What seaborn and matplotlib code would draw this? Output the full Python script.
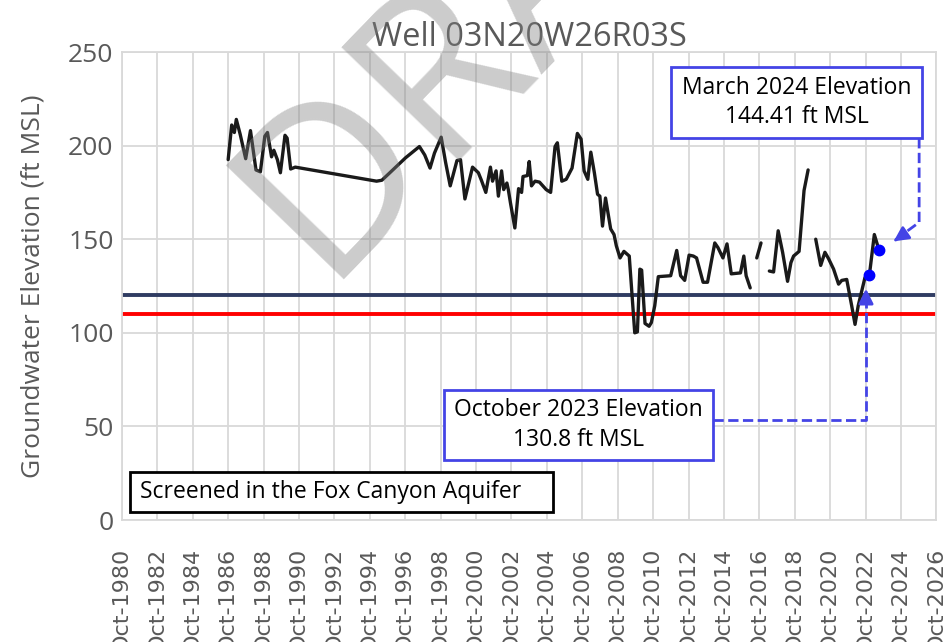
import numpy as np
import pandas as pd
import seaborn as sns
import matplotlib.pyplot as plt
from matplotlib.patches import Rectangle

# data (decimal years, ft MSL); seg marks gaps in the record
years = [1986.75, 1986.95, 1987.10, 1987.21, 1987.43, 1987.74, 1988.01, 1988.32, 1988.57, 1988.82,
         1988.97, 1989.20, 1989.33, 1989.53, 1989.70, 1989.96, 1990.08, 1990.28, 1990.54, 1995.13,
         1995.43, 1995.88, 1996.77, 1997.55, 1997.85, 1998.15, 1998.40, 1998.78, 1999.03, 1999.29,
         1999.67, 1999.87, 2000.12, 2000.55, 2000.88, 2001.05, 2001.30, 2001.56, 2001.68, 2001.88,
         2002.01, 2002.19, 2002.31, 2002.49, 2002.57, 2002.69, 2002.94, 2003.15, 2003.32, 2003.40,
         2003.65, 2003.75, 2003.88, 2004.08, 2004.33, 2004.71, 2004.96, 2005.21, 2005.34, 2005.59,
         2005.84, 2006.17, 2006.47, 2006.68, 2006.85, 2007.06, 2007.23, 2007.43, 2007.61, 2007.74,
         2007.89, 2008.06, 2008.35, 2008.54, 2008.67, 2008.88, 2009.10, 2009.40, 2009.71, 2009.86,
         2010.00, 2010.10, 2010.29, 2010.52, 2010.65, 2010.84, 2011.04, 2011.74, 2012.08, 2012.30,
         2012.53, 2012.78, 2013.02, 2013.20, 2013.57, 2013.82, 2014.23, 2014.41, 2014.69, 2014.92,
         2015.16, 2015.68, 2015.87, 2016.00, 2016.23,
         2016.60, 2016.84,
         2017.31, 2017.55, 2017.81, 2018.06, 2018.34, 2018.53, 2018.68, 2018.99, 2019.27, 2019.50,
         2019.93, 2020.21, 2020.45, 2020.66, 2020.94, 2021.22, 2021.40, 2021.68, 2021.96, 2022.15,
         2022.33, 2022.71,
         2022.96, 2023.24, 2023.43, 2023.52]
elev = [192.5, 211, 207, 214, 206, 193, 208, 187, 186, 205,
        207, 194, 197.5, 192.5, 185.5, 205.5, 204, 187.5, 188.5, 181,
        181.5, 185.5, 193.5, 199.5, 195, 188, 196, 204.5, 191, 178.5,
        192, 192.5, 171.5, 188.5, 185.5, 181.5, 175, 188.5, 181, 186.5,
        173, 186.5, 176.5, 180, 176.5, 169.5, 156, 177, 175, 183.5,
        184, 191.5, 178.5, 181, 180.5, 176.5, 175, 199.5, 201.5, 181,
        182, 188, 206.5, 203.5, 186.5, 182, 196.5, 185.5, 174, 173,
        157, 172, 155.5, 152.5, 146.5, 140, 143.5, 141, 100, 100.5,
        134, 133.5, 105, 103.5, 105.5, 114.5, 130, 130.5, 144, 130.5,
        128, 141.5, 141, 140, 127, 127, 148, 145.5, 140, 147.5,
        131.5, 132, 141, 130.5, 124,
        140, 148,
        133, 132.5, 154.5, 143, 127.5, 137.5, 141, 143.5, 176, 187,
        150, 136, 143, 139.5, 134, 126, 128, 128.5, 114.5, 104.5,
        114.5, 129.5,
        130.8, 152.5, 146.5, 144.41]
seg = [1] * 105 + [2] * 2 + [3] * 10 + [4] * 12 + [5] * 4

oct_2023 = (2022.96, 130.8)
mar_2024 = (2023.52, 144.41)
level_blue = 120
level_red = 110
tick_years = list(range(1980, 2027, 2))

df = pd.DataFrame({"year": years, "elev": elev, "seg": seg})

sns.set_style("whitegrid")
plt.rcParams["font.family"] = ["Open Sans", "DejaVu Sans"]
grey = "#595959"
box_blue = "#4444e6"

fig = plt.figure(figsize=(9.45, 6.42), dpi=100)
ax = fig.add_axes([0.129, 0.19, 0.862, 0.729])

# watermark
fig.text(0.552, 1.02, "DRAFT", rotation=46, fontsize=165, color="gray", alpha=0.4,
         ha="center", va="center", family="Open Sans", zorder=1)

ax.axhline(level_blue, color="#2f3c62", lw=2.8, zorder=2)
ax.axhline(level_red, color="#ff0000", lw=2.8, zorder=2)

sns.lineplot(data=df, x="year", y="elev", units="seg", estimator=None, sort=False,
             color="#1a1a1a", lw=2.4, ax=ax, zorder=3)
ax.plot(*oct_2023, "o", color="#0000ff", ms=7.5, zorder=4)
ax.plot(*mar_2024, "o", color="#0000ff", ms=7.5, zorder=4)

ax.set_xlim(1980.75, 2026.75)
ax.set_ylim(0, 250)
ax.set_xticks([y + 0.75 for y in tick_years])
ax.set_xticklabels([f"Oct-{y}" for y in tick_years], rotation=90, family="DejaVu Sans",
                   fontsize=16, color=grey)
ax.set_yticks(range(0, 251, 50))
ax.tick_params(axis="y", labelsize=19, labelcolor=grey, pad=6, length=0)
ax.tick_params(axis="x", pad=20, length=0)
ax.grid(True, color="#d9d9d9", lw=1.3)
for s in ax.spines.values():
    s.set_color("#d9d9d9")
    s.set_linewidth(1.3)
ax.set_xlabel("")
ax.set_ylabel("Groundwater Elevation (ft MSL)", fontsize=19, color=grey, labelpad=16)
ax.set_title("Well 03N20W26R03S", fontsize=23.5, color=grey, pad=4)


def text_box(x0, y0, x1, y1, txt, edge, ha="center"):
    ax.add_patch(Rectangle((x0, y0), x1 - x0, y1 - y0, transform=ax.transAxes,
                           facecolor="white", edgecolor=edge, lw=2, zorder=6))
    tx = (x0 + x1) / 2 if ha == "center" else x0 + 0.012
    ax.text(tx, (y0 + y1) / 2, txt, transform=ax.transAxes, ha=ha, va="center",
            fontsize=16.5, color="black", linespacing=1.3, zorder=7)


text_box(0.674, 0.816, 0.982, 0.968, "March 2024 Elevation\n144.41 ft MSL", box_blue)
text_box(0.395, 0.128, 0.726, 0.278, "October 2023 Elevation\n130.8 ft MSL", box_blue)
text_box(0.0098, 0.017, 0.529, 0.1026, "Screened in the Fox Canyon Aquifer", "black", ha="left")

# dashed connectors
ax.plot([2025.77, 2025.77, 2024.5], [204, 159, 150.2], ls="--", color=box_blue, lw=2, zorder=5)
ax.annotate("", xy=(2024.2, 148), xytext=(2024.6, 150.6),
            arrowprops=dict(arrowstyle="-|>", color=box_blue, lw=2, mutation_scale=22), zorder=5)
ax.plot([2014.14, 2022.77, 2022.77], [53.4, 53.4, 118], ls="--", color=box_blue, lw=2, zorder=5)
ax.annotate("", xy=(2022.77, 125), xytext=(2022.77, 118),
            arrowprops=dict(arrowstyle="-|>", color=box_blue, lw=2, mutation_scale=22), zorder=5)

fig.savefig("out.png", dpi=100)
